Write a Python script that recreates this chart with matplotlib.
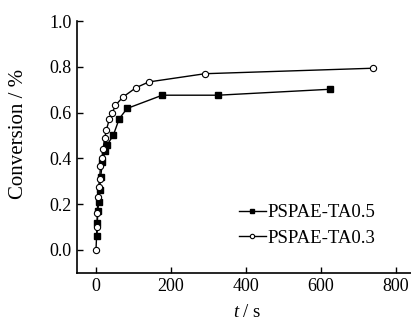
import matplotlib
matplotlib.use("Agg")
import matplotlib.pyplot as plt

plt.rcParams['font.family'] = ['Liberation Serif', 'DejaVu Serif']
plt.rcParams['mathtext.fontset'] = 'custom'
plt.rcParams['mathtext.it'] = 'Liberation Serif:italic'
plt.rcParams['mathtext.rm'] = 'Liberation Serif'

t_05 = [2.6, 3.5, 5, 7, 9.6, 12.6, 17, 24, 29, 46, 62, 83, 177, 326, 625]
c_05 = [0.06, 0.117, 0.17, 0.21, 0.263, 0.318, 0.384, 0.43, 0.457, 0.50, 0.573, 0.618, 0.676, 0.676, 0.702]

t_03 = [0, 2.6, 3.5, 5, 7, 9.6, 12, 16, 18.6, 23, 28, 35.5, 42.6, 52, 72, 107, 141, 291, 740]
c_03 = [0.0, 0.098, 0.16, 0.23, 0.275, 0.308, 0.367, 0.40, 0.439, 0.487, 0.526, 0.57, 0.596, 0.632, 0.668, 0.709, 0.734, 0.770, 0.794]

labels = ['PSPAE-TA0.5', 'PSPAE-TA0.3']
xticks = [0, 200, 400, 600, 800]
yticks = [0.0, 0.2, 0.4, 0.6, 0.8, 1.0]

fig = plt.figure(figsize=(4.11, 3.2), dpi=100)
ax = fig.add_axes([0.188, 0.148, 0.811, 0.786])

ax.plot(t_05, c_05, color='black', lw=1.0, marker='s', ms=4.5, mfc='black', mec='black', label=labels[0])
ax.plot(t_03, c_03, color='black', lw=1.0, marker='o', ms=4.5, mfc='white', mec='black', mew=0.8, label=labels[1])

ax.set_xlim(-50, 840)
ax.set_ylim(-0.1, 1.0)
ax.set_xticks(xticks)
ax.set_yticks(yticks)
ax.set_yticklabels([f'{v:.1f}' for v in yticks])
ax.tick_params(direction='in', labelsize=13, length=4, width=1, pad=4)
for s in ['top', 'right']:
    ax.spines[s].set_visible(False)
for s in ['left', 'bottom']:
    ax.spines[s].set_linewidth(1.2)

ax.set_xlabel('$t$ / s', fontsize=13.5)
ax.xaxis.set_label_coords(0.51, -0.125)
ax.set_ylabel('Conversion / %', fontsize=15)
ax.yaxis.set_label_coords(-0.147, 0.55)

leg = ax.legend(loc='lower right', bbox_to_anchor=(0.935, 0.05), frameon=False, fontsize=13.5,
                handlelength=1.45, handletextpad=0.1, labelspacing=0.45, borderaxespad=0.3,
                markerscale=0.7)

fig.savefig('out.png', dpi=100)
